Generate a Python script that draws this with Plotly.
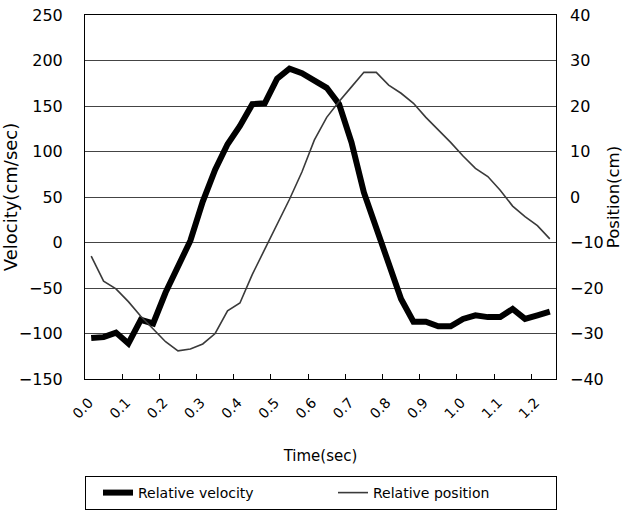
import plotly.graph_objects as go

# 38 frames at 30 Hz (category axis), labels every 3 frames
frame_index = list(range(38))
tick_labels = ["0.0", "0.1", "0.2", "0.3", "0.4", "0.5", "0.6",
               "0.7", "0.8", "0.9", "1.0", "1.1", "1.2"]

velocity = [-105, -104, -99, -111, -85, -89, -55, -25, 2, 45,
            80, 108, 128, 152, 153, 180, 191, 186, 178, 170,
            152, 110, 55, 15, -25, -62, -87, -87, -92, -92,
            -84, -80, -82, -82, -73, -84, -80, -76]

position = [-13, -18.5, -20.2, -23, -26.2, -29, -31.8, -33.8, -33.4, -32.3,
            -30, -25, -23.3, -17, -11.5, -6, -0.5, 5.5, 12.5, 17.5,
            21, 24.2, 27.4, 27.4, 24.6, 22.8, 20.6, 17.5, 14.8, 12,
            9, 6.3, 4.5, 1.5, -2, -4.3, -6.3, -9.2]

label_pos = [3 * k for k in range(len(tick_labels))]
tick_marks = [3 * k - 0.5 for k in range(1, 13)]

FONT = "DejaVu Sans"
W, H = 626, 511

fig = go.Figure()
fig.add_trace(go.Scatter(x=frame_index, y=velocity, mode="lines",
                         name="Relative velocity",
                         line=dict(color="black", width=6)))
fig.add_trace(go.Scatter(x=frame_index, y=position, mode="lines",
                         name="Relative position", yaxis="y2",
                         line=dict(color="#3a3a3a", width=1.6)))

fig.update_layout(
    width=W, height=H,
    margin=dict(l=85, r=70, t=15, b=132),
    paper_bgcolor="white", plot_bgcolor="white",
    font=dict(family=FONT, color="black", size=16),
    showlegend=True,
    legend=dict(orientation="h", xref="container", yref="container",
                x=85 / W, xanchor="left", y=1 - 476 / H, yanchor="top",
                bordercolor="black", borderwidth=1,
                font=dict(family=FONT, size=14),
                entrywidth=178, entrywidthmode="pixels",
                indentation=12, traceorder="normal"),
    xaxis=dict(range=[-0.5, 37.5], tickmode="array", tickvals=label_pos,
               ticktext=tick_labels, tickangle=-45, ticks="",
               showgrid=False, zeroline=False, automargin=False,
               showline=True, linecolor="black", linewidth=1, mirror=True,
               tickfont=dict(size=14), ticklabelstandoff=9,
               ticklabelshift=-2, ticklabeloverflow="allow",
               minor=dict(tickmode="array", tickvals=tick_marks, ticks="inside",
                          ticklen=5, tickcolor="black", showgrid=False),
               title=dict(text="Time(sec)", font=dict(size=15), standoff=29)),
    yaxis=dict(range=[-150, 250], tickmode="linear", tick0=-150, dtick=50,
               showgrid=True, gridcolor="#444444", gridwidth=1,
               zeroline=False, showline=True, linecolor="black", linewidth=1,
               mirror=True, ticks="", ticklabelstandoff=18, automargin=False,
               ticklabeloverflow="allow", tickfont=dict(size=16),
               title=dict(text="Velocity(cm/sec)", font=dict(size=18), standoff=16)),
    yaxis2=dict(range=[-40, 40], tickmode="linear", tick0=-40, dtick=10,
                overlaying="y", side="right", showgrid=False, zeroline=False,
                ticks="", ticklabelstandoff=13, automargin=False,
                ticklabeloverflow="allow", tickfont=dict(size=16),
                title=dict(text="Position(cm)", font=dict(size=16.5), standoff=3)),
)

# remove the default page margin so the figure fills the window exactly
fig.write_html("out.html", config={"displayModeBar": False},
               post_script="document.body.style.margin='0';")
